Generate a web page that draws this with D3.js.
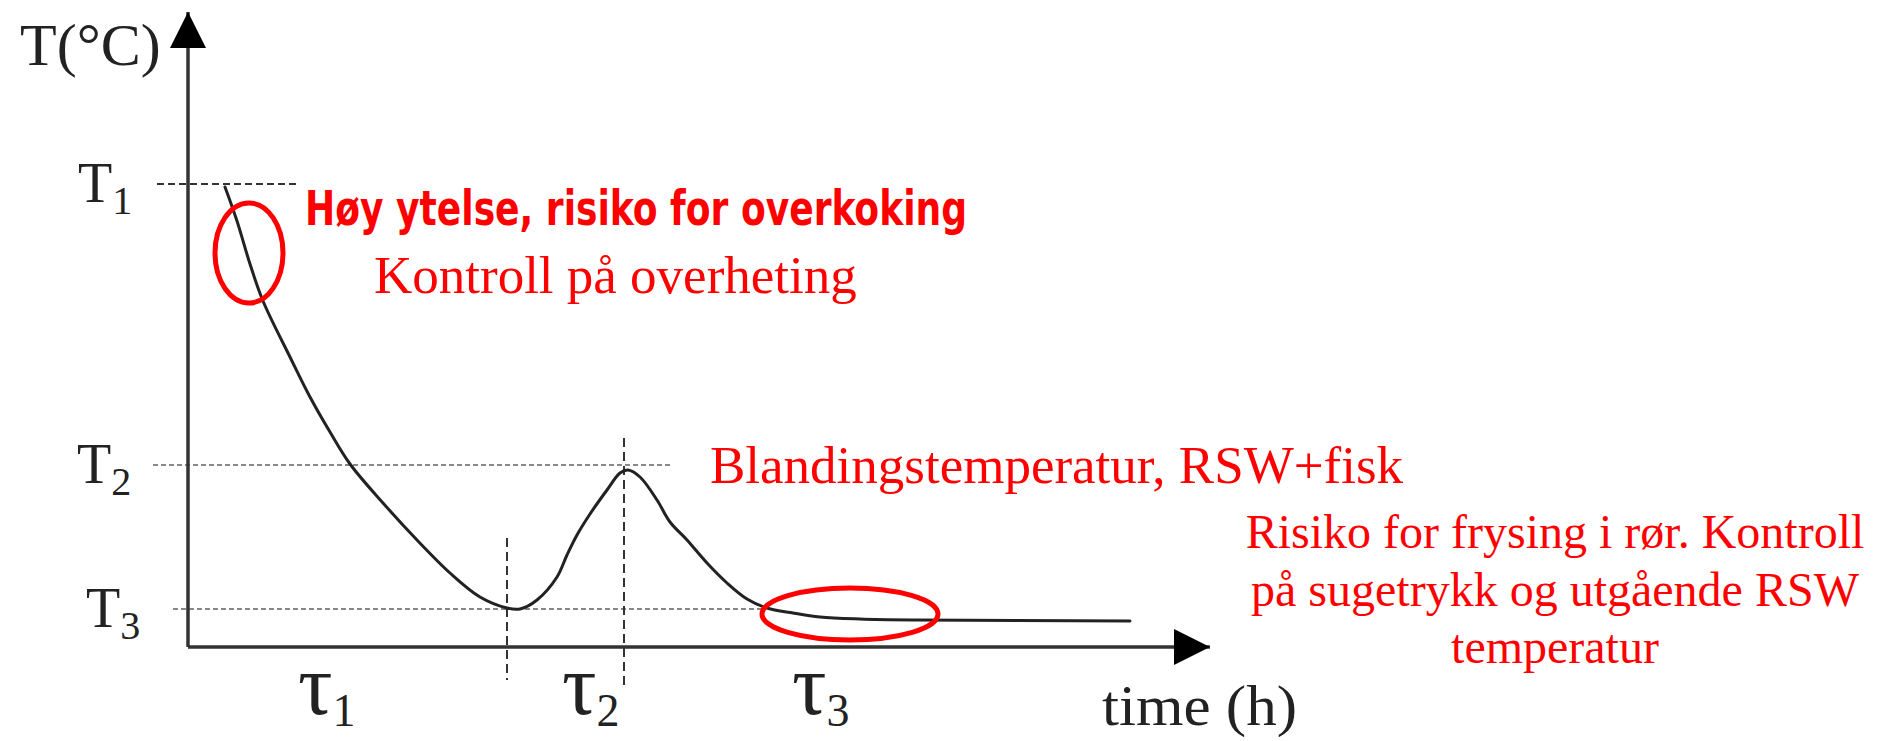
<!DOCTYPE html>
<html>
<head>
<meta charset="utf-8">
<script src="https://cdn.jsdelivr.net/npm/d3@7"></script>
<style>
  html, body { margin: 0; padding: 0; background: #fff; }
  svg { display: block; }
  .serif { font-family: "Liberation Serif", "Times New Roman", serif; }
  .narrow { font-family: "Liberation Sans Narrow", "DejaVu Sans Condensed", sans-serif; font-weight: bold; }
  .ink { fill: #222; }
  .note { fill: #ff0000; }
</style>
</head>
<body>
<svg id="chart" width="1880" height="741"></svg>
<script>
// schematic cooling curve: time in h, temperature in arbitrary units
const curveTime = [0.37, 0.49, 0.62, 0.75, 1.02, 1.22, 1.42, 1.62, 1.95, 2.29, 2.62, 2.92, 3.19, 3.32,
  3.49, 3.69, 3.79, 3.89, 4.02, 4.19, 4.32, 4.40, 4.52, 4.69, 4.82, 4.99, 5.19, 5.39, 5.59, 5.79,
  6.05, 6.32, 6.72, 7.29, 9.42];
const curveTemp = [9.20, 8.52, 7.66, 6.92, 5.80, 5.00, 4.30, 3.66, 2.88, 2.14, 1.48, 1.00, 0.78, 0.76,
  0.94, 1.40, 1.84, 2.24, 2.66, 3.14, 3.48, 3.54, 3.40, 2.94, 2.50, 2.14, 1.68, 1.28, 0.96, 0.78,
  0.68, 0.60, 0.56, 0.54, 0.52];

const levelNames = ["1", "2", "3"];
const levelValues = [9.26, 3.64, 0.76];
const levelFrom = [-0.31, -0.35, -0.15];
const levelTo = [1.09, 4.82, 5.77];

const markerTimes = [3.19, 4.36];
const markerTop = [2.18, 4.18];
const markerBottom = [-0.66, -0.76];

const phaseNames = ["1", "2", "3"];
const phaseTimes = [1.10, 3.74, 6.04];

const ringTime = [0.61, 6.62];
const ringTemp = [7.88, 0.66];
const ringHalfTime = [0.34, 0.88];
const ringHalfTemp = [1.0, 0.52];

const xMax = 10.22;
const yMax = 12.7;

const svg = d3.select("#chart");
const x = d3.scaleLinear().domain([0, 10]).range([188, 1188]);
const y = d3.scaleLinear().domain([0, 10]).range([647, 147]);

svg.append("rect").attr("width", 1880).attr("height", 741).attr("fill", "#fff");

svg
  .append("defs")
  .append("marker")
  .attr("id", "arrow")
  .attr("viewBox", "0 -5 10 10")
  .attr("refX", 10)
  .attr("refY", 0)
  .attr("markerUnits", "userSpaceOnUse")
  .attr("markerWidth", 36)
  .attr("markerHeight", 36)
  .attr("orient", "auto")
  .append("path")
  .attr("d", "M0,-5L10,0L0,5Z")
  .attr("fill", "#000");

// guide lines
svg
  .append("g")
  .selectAll("line")
  .data(levelValues)
  .join("line")
  .attr("x1", (d, i) => x(levelFrom[i]))
  .attr("x2", (d, i) => x(levelTo[i]))
  .attr("y1", (d) => y(d))
  .attr("y2", (d) => y(d))
  .attr("stroke", (d, i) => (i === 0 ? "#333" : "#888"))
  .attr("stroke-width", 2)
  .attr("stroke-dasharray", (d, i) => (i === 0 ? "7,4" : "5,3"));

svg
  .append("g")
  .selectAll("line")
  .data(markerTimes)
  .join("line")
  .attr("x1", (d) => x(d))
  .attr("x2", (d) => x(d))
  .attr("y1", (d, i) => y(markerTop[i]))
  .attr("y2", (d, i) => y(markerBottom[i]))
  .attr("stroke", "#333")
  .attr("stroke-width", 2)
  .attr("stroke-dasharray", "9,5");

// axes
const axes = svg.append("g").attr("stroke", "#333").attr("stroke-width", 3.5);
axes
  .append("line")
  .attr("x1", x(0))
  .attr("y1", y(0))
  .attr("x2", x(xMax))
  .attr("y2", y(0))
  .attr("marker-end", "url(#arrow)");
axes
  .append("line")
  .attr("x1", x(0))
  .attr("y1", y(0))
  .attr("x2", x(0))
  .attr("y2", y(yMax))
  .attr("marker-end", "url(#arrow)");

// curve
const points = curveTime.map((t, i) => [t, curveTemp[i]]);
const line = d3
  .line()
  .x((d) => x(d[0]))
  .y((d) => y(d[1]))
  .curve(d3.curveCatmullRom.alpha(0.5));

svg
  .append("path")
  .datum(points)
  .attr("d", line)
  .attr("fill", "none")
  .attr("stroke", "#222")
  .attr("stroke-width", 3)
  .attr("stroke-linecap", "round");

// red rings
svg
  .append("g")
  .selectAll("ellipse")
  .data(ringTime)
  .join("ellipse")
  .attr("cx", (d) => x(d))
  .attr("cy", (d, i) => y(ringTemp[i]))
  .attr("rx", (d, i) => x(ringHalfTime[i]) - x(0))
  .attr("ry", (d, i) => y(0) - y(ringHalfTemp[i]))
  .attr("fill", "none")
  .attr("stroke", "#ff0000")
  .attr("stroke-width", 5);

// axis titles
svg.append("text").attr("class", "serif ink").attr("x", 20).attr("y", 65)
  .attr("font-size", 60).text("T(°C)");

svg.append("text").attr("class", "serif ink").attr("x", 1102).attr("y", 725)
  .attr("font-size", 56).attr("textLength", 195).attr("lengthAdjust", "spacingAndGlyphs")
  .text("time (h)");

// level labels T1..T3
const levelLabel = svg
  .append("g")
  .selectAll("text")
  .data(levelValues)
  .join("text")
  .attr("class", "serif ink")
  .attr("x", (d, i) => [78, 77, 86][i])
  .attr("y", (d) => y(d) + 18)
  .attr("font-size", 56);
levelLabel.append("tspan").text("T");
levelLabel.append("tspan").attr("font-size", 40).attr("dy", 12).text((d, i) => levelNames[i]);

// phase labels tau1..tau3
const phaseLabel = svg
  .append("g")
  .selectAll("text")
  .data(phaseTimes)
  .join("text")
  .attr("class", "serif ink")
  .attr("x", (d) => x(d))
  .attr("y", 714)
  .attr("font-size", 86);
phaseLabel.append("tspan").text("τ");
phaseLabel.append("tspan").attr("font-size", 46).attr("dy", 12).text((d, i) => phaseNames[i]);

// red notes
svg.append("text").attr("class", "narrow note").attr("x", 305).attr("y", 225)
  .attr("font-size", 48)
  .attr("textLength", 662).attr("lengthAdjust", "spacingAndGlyphs")
  .text("Høy ytelse, risiko for overkoking");

svg.append("text").attr("class", "serif note").attr("x", 374).attr("y", 293)
  .attr("font-size", 53).text("Kontroll på overheting");

svg.append("text").attr("class", "serif note").attr("x", 710).attr("y", 483)
  .attr("font-size", 53).text("Blandingstemperatur, RSW+fisk");

const freezeLines = ["Risiko for frysing i rør. Kontroll", "på sugetrykk og utgående RSW", "temperatur"];
svg
  .append("g")
  .selectAll("text")
  .data(freezeLines)
  .join("text")
  .attr("class", "serif note")
  .attr("x", 1555)
  .attr("y", (d, i) => 548 + i * 57.5)
  .attr("text-anchor", "middle")
  .attr("font-size", 48)
  .text((d) => d);
</script>
</body>
</html>
